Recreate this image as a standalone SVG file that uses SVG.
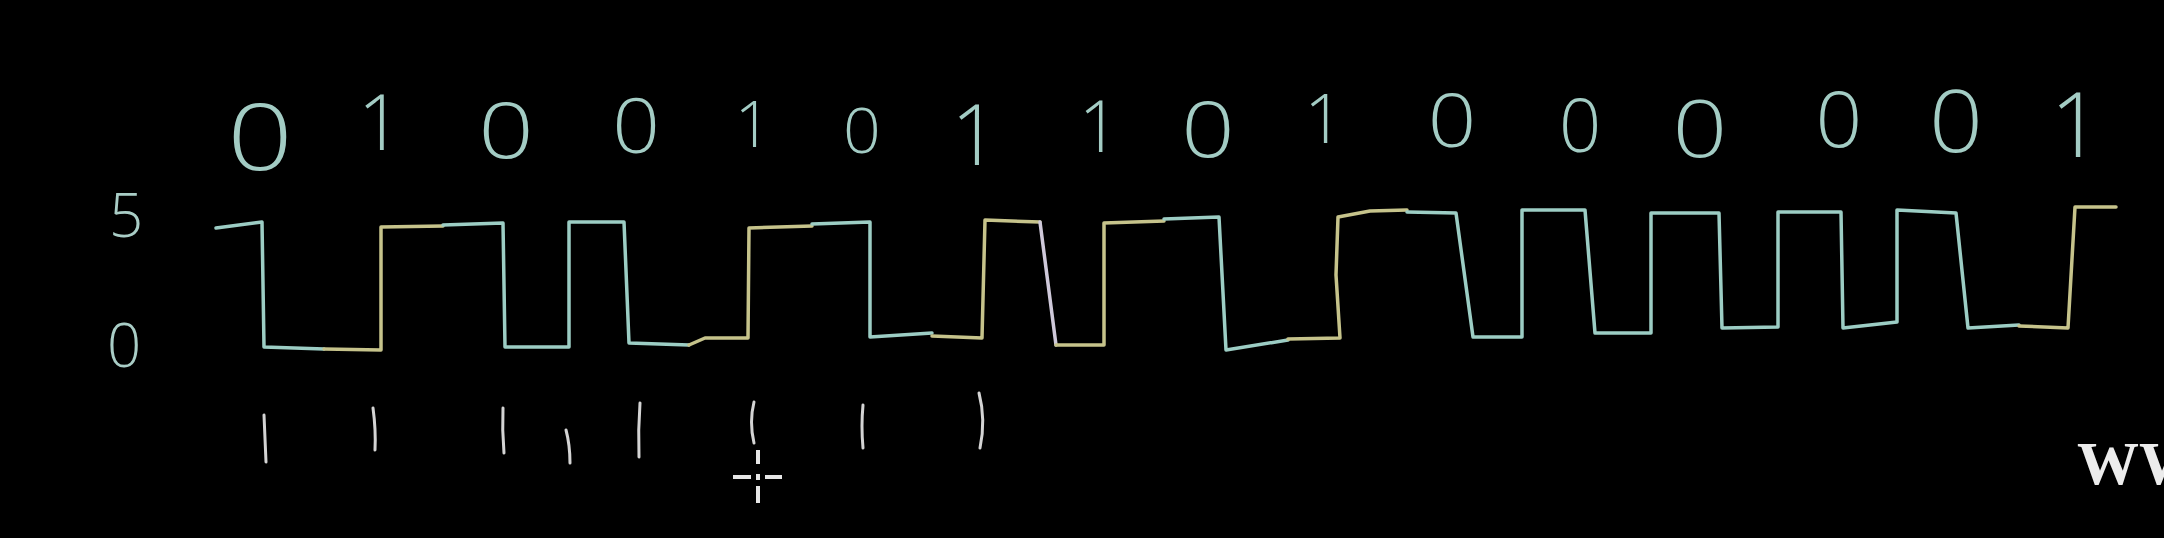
<svg xmlns="http://www.w3.org/2000/svg" width="2164" height="538" viewBox="0 0 2164 538">
<style>
.bg{fill:#000}
.dig{font-family:"Open Sans","Liberation Sans",sans-serif;font-weight:300;fill:#a3ccc4;text-anchor:middle}
.lab{font-family:"Open Sans","Liberation Sans",sans-serif;font-weight:300;fill:#a9cdc6;text-anchor:middle}
.w{fill:none;stroke-width:3.5;stroke-linejoin:round;stroke-linecap:round}
.t{stroke:#9ccdc4}
.y{stroke:#c6c38b}
.l{stroke:#cfc9da}
.tick{fill:none;stroke:#d4d4d4;stroke-width:3;stroke-linecap:round}
.cur{stroke:#e6e6e6;stroke-width:4;stroke-linecap:butt}
.www{font-family:"Liberation Serif",serif;font-weight:bold;font-size:62px;fill:#ececec}
</style>
<rect class="bg" x="0" y="0" width="2164" height="538"/>
<g id="axis-labels">
<text class="lab" x="126" y="237" font-size="60">5</text>
<text class="lab" x="124" y="367" font-size="60">0</text>
</g>
<g id="bits">
<text class="dig" transform="translate(260,170) scale(1.25,1)" font-size="92">0</text>
<text class="dig" transform="translate(380,150)" font-size="78">1</text>
<text class="dig" transform="translate(506,158) scale(1.25,1)" font-size="78">0</text>
<text class="dig" transform="translate(636,153) scale(1.1,1)" font-size="76">0</text>
<text class="dig" transform="translate(753,147)" font-size="64">1</text>
<text class="dig" transform="translate(862,153) scale(1.05,1)" font-size="63">0</text>
<text class="dig" transform="translate(975,165)" font-size="84">1</text>
<text class="dig" transform="translate(1099,152)" font-size="71">1</text>
<text class="dig" transform="translate(1208,157) scale(1.2,1)" font-size="78">0</text>
<text class="dig" transform="translate(1324,143)" font-size="69">1</text>
<text class="dig" transform="translate(1452,147) scale(1.15,1)" font-size="74">0</text>
<text class="dig" transform="translate(1580,152) scale(1.0,1)" font-size="74">0</text>
<text class="dig" transform="translate(1700,157) scale(1.2,1)" font-size="80">0</text>
<text class="dig" transform="translate(1839,147) scale(1.05,1)" font-size="78">0</text>
<text class="dig" transform="translate(1956,152) scale(1.1,1)" font-size="86">0</text>
<text class="dig" transform="translate(2076,157)" font-size="90">1</text>
</g>
<g id="waveform">
<polyline class="w t" points="216,228 262,222 264,347 324,349"/>
<polyline class="w y" points="324,349 381,350 381,227 443,226"/>
<polyline class="w t" points="443,225 503,223 505,347 569,347 569,222 624,222 629,343 689,345"/>
<polyline class="w y" points="689,345 705,338 748,338 749,228 812,226"/>
<polyline class="w t" points="812,224 870,222 870,337 932,333"/>
<polyline class="w y" points="932,336 982,338 985,220 1040,222"/>
<polyline class="w l" points="1040,222 1056,345"/>
<polyline class="w y" points="1056,345 1104,345 1104,223 1164,221"/>
<polyline class="w t" points="1164,219 1219,217 1226,350 1288,340"/>
<polyline class="w y" points="1288,339 1340,338 1336,275 1338,217 1370,211 1407,210"/>
<polyline class="w t" points="1407,212 1456,213 1473,337 1522,337 1522,210 1585,210 1595,333 1651,333 1651,213 1719,213 1722,328 1778,327 1778,212 1841,212 1843,328 1897,322 1897,210 1956,213 1968,328 2019,325"/>
<polyline class="w y" points="2019,326 2068,328 2075,207 2116,207"/>
</g>
<g id="ticks">
<path class="tick" d="M264,415 Q265,440 266,462"/>
<path class="tick" d="M373,408 Q376,430 375,450"/>
<path class="tick" d="M503,408 Q502,430 504,453"/>
<path class="tick" d="M566,430 Q570,445 570,463"/>
<path class="tick" d="M640,403 Q638,430 639,457"/>
<path class="tick" d="M754,402 Q749,422 754,443"/>
<path class="tick" d="M863,405 Q861,426 863,448"/>
<path class="tick" d="M979,393 Q986,420 980,448"/>
</g>
<g id="cursor">
<line class="cur" x1="758" y1="450" x2="758" y2="464"/>
<line class="cur" x1="758" y1="486" x2="758" y2="503"/>
<line class="cur" x1="733" y1="477" x2="751" y2="477"/>
<line class="cur" x1="765" y1="477" x2="782" y2="477"/>
<line class="cur" x1="758" y1="474" x2="758" y2="480"/>
</g>
<g id="watermark">
<text class="www" x="2077" y="484">WW</text>
</g>
</svg>
